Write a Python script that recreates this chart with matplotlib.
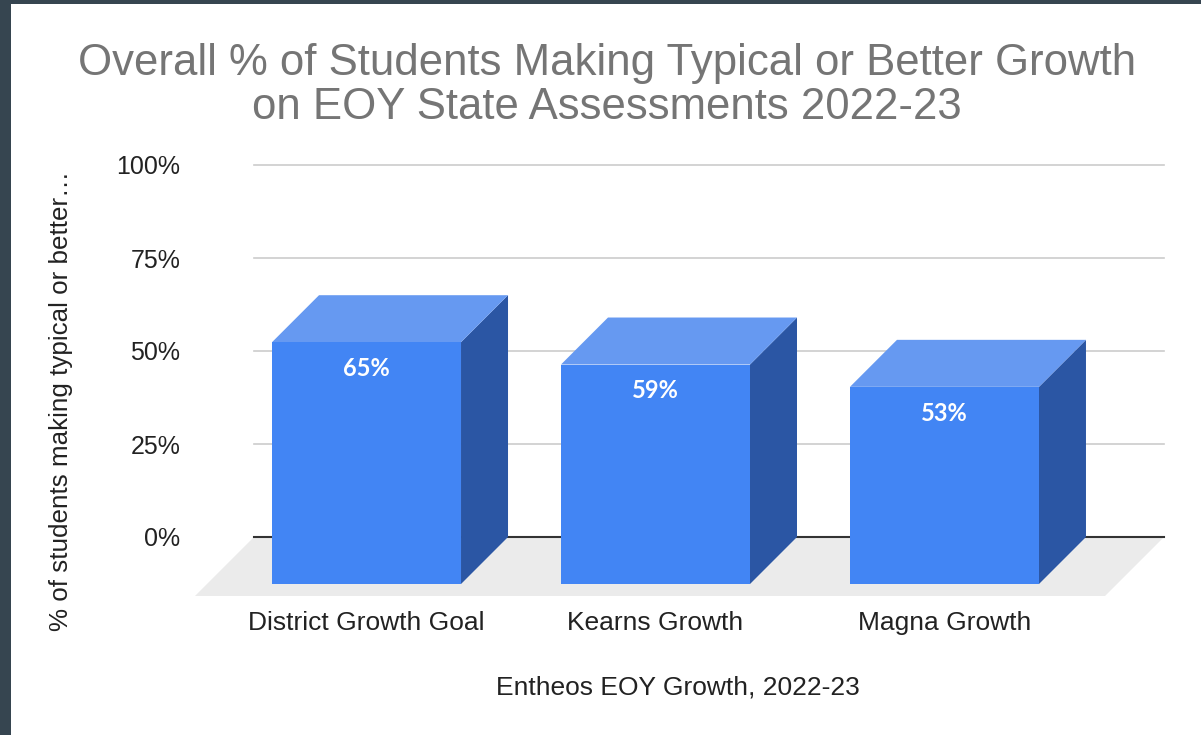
import matplotlib
matplotlib.use("Agg")
import matplotlib.pyplot as plt
from matplotlib.patches import Polygon, Rectangle
import matplotlib.transforms as mtransforms

# ---- data ----
categories = ["District Growth Goal", "Kearns Growth", "Magna Growth"]
values = [65, 59, 53]
value_labels = ["65%", "59%", "53%"]
yticks = [0, 25, 50, 75, 100]
ytick_labels = ["0%", "25%", "50%", "75%", "100%"]
title_lines = ["Overall % of Students Making Typical or Better Growth",
               "on EOY State Assessments 2022-23"]
ylabel = "% of students making typical or better\u2026"
xlabel = "Entheos EOY Growth, 2022-23"

W, H = 1201, 735
fig = plt.figure(figsize=(W / 100, H / 100), dpi=100)
fig.patch.set_facecolor("white")

FONT = ["Liberation Sans", "DejaVu Sans"]

# dark frame edges
fig.patches.append(Rectangle((0, 0), 11 / W, 1, transform=fig.transFigure,
                             facecolor="#364550", edgecolor="none", zorder=10))
fig.patches.append(Rectangle((0, 1 - 4 / H), 1, 4 / H, transform=fig.transFigure,
                             facecolor="#364550", edgecolor="none", zorder=10))

# back plane axes
left_px, right_px, top_px, bot_px = 254, 1164, 165, 537
ax = fig.add_axes([left_px / W, 1 - bot_px / H, (right_px - left_px) / W, (bot_px - top_px) / H])
ax.set_facecolor("none")
xmin, xmax = -0.552, 2.597
ax.set_xlim(xmin, xmax)
ax.set_ylim(0, 100)
for s in ax.spines.values():
    s.set_visible(False)
ax.set_xticks([])
ax.set_yticks(yticks)
ax.set_yticklabels(ytick_labels, fontfamily=FONT, fontsize=18, color="#222222")
ax.tick_params(axis="y", length=0, pad=53)

px_per_unit_x = (right_px - left_px) / (xmax - xmin)
px_per_unit_y = (bot_px - top_px) / 100.0

# gridlines
for t in yticks[1:]:
    ax.plot([xmin, xmax], [t, t], color="#cccccc", lw=1.2, zorder=1, clip_on=False)

# floor
fdx = 59 / px_per_unit_x
fdy = 59 / px_per_unit_y
floor = Polygon([(xmin, 0), (xmax, 0), (xmax - fdx, -fdy), (xmin - fdx, -fdy)],
                closed=True, facecolor="#ebebeb", edgecolor="none", zorder=0.5, clip_on=False)
ax.add_patch(floor)
ax.plot([xmin, xmax], [0, 0], color="#333333", lw=1.5, zorder=1.5, clip_on=False)

# bars
bw = 189 / px_per_unit_x
bdx = 47 / px_per_unit_x
bdy = 47 / px_per_unit_y
c_front, c_top, c_side = "#4285f4", "#6699f1", "#2b56a4"
for i, v in enumerate(values):
    l, r = i - bw / 2, i + bw / 2
    side = Polygon([(r, v), (r, 0), (r - bdx, -bdy), (r - bdx, v - bdy)], closed=True,
                   facecolor=c_side, edgecolor="none", zorder=3, clip_on=False)
    top = Polygon([(l, v), (r, v), (r - bdx, v - bdy), (l - bdx, v - bdy)], closed=True,
                  facecolor=c_top, edgecolor="none", zorder=3, clip_on=False)
    front = Polygon([(l - bdx, -bdy), (r - bdx, -bdy), (r - bdx, v - bdy), (l - bdx, v - bdy)],
                    closed=True, facecolor=c_front, edgecolor="none", zorder=4, clip_on=False)
    for p in (side, top, front):
        ax.add_patch(p)
    ax.annotate(value_labels[i], xy=(i - bdx, v - bdy), xytext=(0, -19), textcoords="offset points",
                ha="center", va="center", color="white", fontsize=17,
                fontfamily=["Lato", "DejaVu Sans"], fontweight="bold", zorder=5,
                annotation_clip=False)

# category labels
trans = mtransforms.blended_transform_factory(ax.transData, fig.transFigure)
for i, c in enumerate(categories):
    ax.text(i - bdx, 1 - 623 / H, c, transform=trans, ha="center", va="center",
            fontsize=19, fontfamily=FONT, color="#222222")

# titles
fig.text(607 / W, 1 - 75 / H, title_lines[0], ha="center", va="baseline",
         fontsize=31.5, fontfamily=FONT, color="#757575")
fig.text(607 / W, 1 - 119 / H, title_lines[1], ha="center", va="baseline",
         fontsize=31.5, fontfamily=FONT, color="#757575")

fig.text(61 / W, 1 - 401 / H, ylabel, rotation=90, ha="center", va="center",
         fontsize=18.7, fontfamily=FONT, color="#222222")
fig.text(678 / W, 1 - 688 / H, xlabel, ha="center", va="center",
         fontsize=19, fontfamily=FONT, color="#222222")

fig.savefig("out.png", dpi=100, facecolor="white")
